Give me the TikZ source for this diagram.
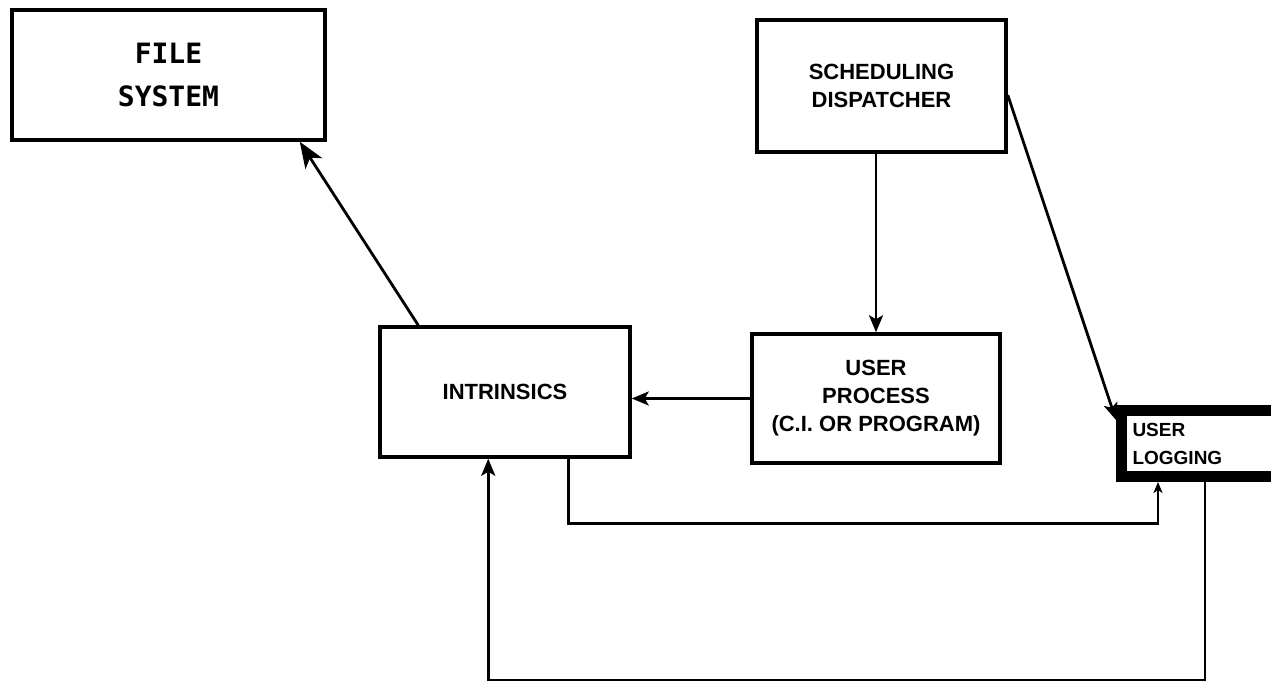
\documentclass[tikz,border=0pt]{standalone}
\usepackage{fontspec}
\setmainfont{Liberation Sans}
\newfontfamily\monobold{DejaVu Sans Mono}
\usetikzlibrary{arrows.meta}
\begin{document}
\begin{tikzpicture}[x=1pt,y=-1pt,
  box/.style={draw,line width=3.5pt,inner sep=0pt,align=center,
    font=\fontsize{22}{28}\selectfont\bfseries},
  conn/.style={line width=2.8pt},
  bigtip/.style={-{Stealth[length=26pt,width=20pt,inset=7pt]}},
  midtip/.style={-{Stealth[length=17pt,width=14pt,inset=4pt]}},
  smalltip/.style={-{Stealth[length=11pt,width=9pt,inset=3pt]}}]
\useasboundingbox (0,0) rectangle (1271,688);
\fill[white] (0,0) rectangle (1271,688);
\clip (0,0) rectangle (1271,688);

% blocks
\node[box,minimum width=313pt,minimum height=130pt,
  font=\fontsize{28}{43}\selectfont\monobold\bfseries] (fs) at (168.5,75) {FILE\\SYSTEM};
\node[box,minimum width=249pt,minimum height=132pt] (sched) at (881.5,86) {SCHEDULING\\DISPATCHER};
\node[box,minimum width=250pt,minimum height=130pt] (intr) at (505,392) {INTRINSICS};
\node[box,minimum width=248pt,minimum height=129pt] (up) at (876,398.5) {USER\\PROCESS\\(C.I. OR PROGRAM)};
\node[draw,line width=11pt,anchor=north west,minimum width=170pt,minimum height=66pt,
  inner xsep=11pt,text width=148pt,align=left,
  font=\fontsize{19}{28}\selectfont\bfseries] (log) at (1116,405) {USER\\LOGGING};

% connectors
\draw[conn,bigtip] ([xshift=40pt]intr.north west) -- ([xshift=-27pt]fs.south east);
\draw[conn,midtip] (up.north |- sched.south) -- (up.north);
\draw[conn,midtip] ([yshift=-9pt]sched.east) -- ([yshift=-15pt]log.north west);
\draw[conn,midtip] (up.west) -- (up.west -| intr.east);
\draw[conn,smalltip] ([xshift=190pt]intr.south west) -- ++(0,65) -| ([xshift=42pt]log.south west);
\draw[conn,midtip] ([xshift=89pt]log.south west) -- ++(0,198) -| ([xshift=110pt]intr.south west);
\end{tikzpicture}
\end{document}
